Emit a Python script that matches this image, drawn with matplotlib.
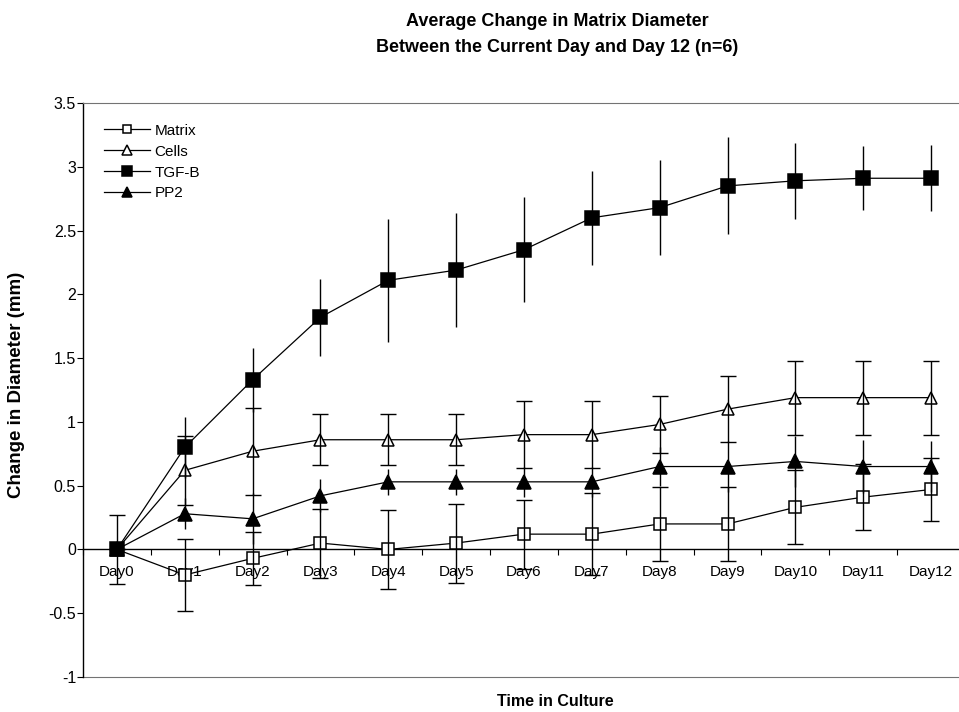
import numpy as np
import matplotlib
matplotlib.use("Agg")
import matplotlib.pyplot as plt
from matplotlib.ticker import FixedLocator, NullFormatter, FixedFormatter

plt.rcParams['font.family'] = ['Liberation Sans', 'DejaVu Sans']

days = ["Day0", "Day1", "Day2", "Day3", "Day4", "Day5", "Day6",
        "Day7", "Day8", "Day9", "Day10", "Day11", "Day12"]

# mean change in diameter (mm) and error bar half-lengths
matrix = [0.0, -0.20, -0.07, 0.05, 0.00, 0.05, 0.12, 0.12, 0.20, 0.20, 0.33, 0.41, 0.47]
matrix_err = [0.27, 0.28, 0.21, 0.27, 0.31, 0.31, 0.27, 0.32, 0.29, 0.29, 0.29, 0.26, 0.25]

cells = [0.0, 0.62, 0.77, 0.86, 0.86, 0.86, 0.90, 0.90, 0.98, 1.10, 1.19, 1.19, 1.19]
cells_err = [0.0, 0.27, 0.34, 0.20, 0.20, 0.20, 0.26, 0.26, 0.22, 0.26, 0.29, 0.29, 0.29]

tgfb = [0.0, 0.80, 1.33, 1.82, 2.11, 2.19, 2.35, 2.60, 2.68, 2.85, 2.89, 2.91, 2.91]
tgfb_err = [0.0, 0.24, 0.25, 0.30, 0.48, 0.45, 0.41, 0.37, 0.37, 0.38, 0.30, 0.25, 0.26]

pp2 = [0.0, 0.28, 0.24, 0.42, 0.53, 0.53, 0.53, 0.53, 0.65, 0.65, 0.69, 0.65, 0.65]
pp2_err = [0.0, 0.12, 0.20, 0.13, 0.10, 0.10, 0.12, 0.12, 0.15, 0.20, 0.20, 0.21, 0.20]

x = np.arange(len(days))

fig = plt.figure(figsize=(9.59, 7.12), dpi=100)
# plot area runs slightly past the right edge of the picture, as in the scan
ax = fig.add_axes([83 / 959, 35 / 712, 882 / 959, 574 / 712])

series = [
    ("Matrix", matrix, matrix_err, 's', 'white', 8, 6),
    ("Cells", cells, cells_err, '^', 'white', 9, 6),
    ("TGF-B", tgfb, tgfb_err, 's', 'black', 9.5, 0),
    ("PP2", pp2, pp2_err, '^', 'black', 9.5, 0),
]

for name, y, err, mk, fc, ms, cap in series:
    ax.plot(x, y, color='black', lw=0.9, marker=mk, markersize=ms,
            markerfacecolor=fc, markeredgecolor='black', markeredgewidth=1.1,
            label=name, zorder=3)
    ax.errorbar(x, y, yerr=err, fmt='none', ecolor='black', elinewidth=1.0,
                capsize=cap, capthick=1.0, zorder=4)

ax.set_xlim(-0.5, 12.5)
ax.set_ylim(-1, 3.5)
ax.set_yticks(np.arange(-1, 3.51, 0.5))
ax.set_yticklabels(["-1", "-0.5", "0", "0.5", "1", "1.5", "2", "2.5", "3", "3.5"])

# category axis sits on the zero line
ax.spines['bottom'].set_position(('data', 0))
ax.spines['right'].set_visible(False)
ax.spines['top'].set_color('0.45')
ax.spines['top'].set_linewidth(0.8)
ax.spines['left'].set_linewidth(1.0)
ax.spines['bottom'].set_linewidth(1.0)
ax.axhline(-1, color='0.45', lw=0.8, clip_on=False)

ax.xaxis.set_major_locator(FixedLocator(np.arange(-0.5, 12.6, 1)))
ax.xaxis.set_major_formatter(NullFormatter())
ax.xaxis.set_minor_locator(FixedLocator(x))
ax.xaxis.set_minor_formatter(FixedFormatter(days))
ax.tick_params(axis='x', which='major', direction='out', length=4, width=0.8)
ax.tick_params(axis='x', which='minor', length=0, pad=11, labelsize=11)
ax.tick_params(axis='y', direction='out', length=4, width=0.8, labelsize=11.5, pad=1)

leg = ax.legend(loc='upper left', frameon=False, fontsize=11, handlelength=3.0,
                handletextpad=0.3, labelspacing=0.45, borderaxespad=0.4,
                markerscale=0.8, bbox_to_anchor=(0.01, 0.985))

fig.text(557 / 959, 1 - 22 / 712, "Average Change in Matrix Diameter",
         ha='center', va='center', fontsize=13, fontweight='bold')
fig.text(557 / 959, 1 - 48 / 712, "Between the Current Day and Day 12 (n=6)",
         ha='center', va='center', fontsize=13, fontweight='bold')
fig.text(555 / 959, 1 - 702 / 712, "Time in Culture",
         ha='center', va='center', fontsize=11.5, fontweight='bold')
fig.text(17 / 959, 1 - 385 / 712, "Change in Diameter (mm)", rotation=90,
         ha='center', va='center', fontsize=13.5, fontweight='bold')

fig.savefig("out.png", dpi=100)
